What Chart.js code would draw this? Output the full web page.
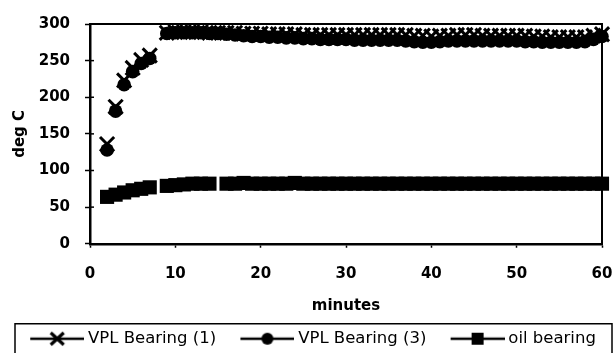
<!DOCTYPE html>
<html>
<head>
<meta charset="utf-8">
<script src="https://cdn.jsdelivr.net/npm/chart.js@4/dist/chart.umd.min.js"></script>
<style>
  html, body { margin: 0; padding: 0; background: #fff; }
  #wrap { width: 615px; height: 353px; position: relative; }
</style>
</head>
<body>
<div id="wrap"><canvas id="c"></canvas></div>
<script>
// ---- data ----
const seriesNames = ['VPL Bearing (1)', 'VPL Bearing (3)', 'oil bearing'];
const xTitle = 'minutes';
const yTitle = 'deg C';

const minutesVPL = [2, 3, 4, 5, 6, 7,
  9, 10, 11, 12, 13, 14, 15,
  16, 17, 18, 19, 20, 21, 22, 23, 24, 25,
  26, 27, 28, 29, 30, 31, 32, 33, 34, 35,
  36, 37, 38, 39, 40, 41, 42, 43, 44, 45,
  46, 47, 48, 49, 50, 51, 52, 53, 54, 55,
  56, 57, 58, 59, 60];

const vpl1 = [136, 187, 223, 240, 251, 257,
  288, 289, 289, 289, 289, 288, 288,
  288, 288, 287, 287, 287, 286, 286, 286, 286, 285,
  285, 285, 285, 285, 285, 285, 285, 285, 285, 285,
  285, 285, 284, 284, 283, 284, 284, 285, 285, 285,
  284, 284, 284, 284, 284, 284, 283, 283, 282, 282,
  282, 282, 282, 284, 286];

const vpl3 = [128, 181, 217, 235, 246, 253,
  287, 288, 288, 288, 288, 287, 287,
  286, 285, 284, 283, 283, 282, 282, 281, 281, 280,
  280, 279, 279, 279, 279, 278, 278, 278, 278, 278,
  278, 277, 276, 275, 275, 276, 277, 277, 277, 277,
  277, 277, 277, 277, 277, 276, 276, 275, 275, 275,
  275, 275, 276, 279, 283];

const minutesOil = [2, 3, 4, 5, 6, 7,
  9, 10, 11, 12, 13, 14,
  16, 17, 18, 19, 20, 21, 22, 23, 24, 25,
  26, 27, 28, 29, 30, 31, 32, 33, 34, 35,
  36, 37, 38, 39, 40, 41, 42, 43, 44, 45,
  46, 47, 48, 49, 50, 51, 52, 53, 54, 55,
  56, 57, 58, 59, 60];

const oil = [64, 67, 70, 73, 75, 77,
  79, 80, 81, 82, 82, 82,
  82, 82, 83, 82, 82, 82, 82, 82, 83, 82,
  82, 82, 82, 82, 82, 82, 82, 82, 82, 82,
  82, 82, 82, 82, 82, 82, 82, 82, 82, 82,
  82, 82, 82, 82, 82, 82, 82, 82, 82, 82,
  82, 82, 82, 82, 82];

const xTicks = [0, 10, 20, 30, 40, 50, 60];
const yTicks = [0, 50, 100, 150, 200, 250, 300];

// ---- build ----
function pts(xs, ys) { return xs.map((x, i) => ({ x: x, y: ys[i] })); }

const markerStyles = ['crossRot', 'circle', 'rect'];

function makeIcon(kind) {
  const W = 76, H = 22;
  const cv = document.createElement('canvas');
  cv.width = W; cv.height = H;
  const g = cv.getContext('2d');
  const x0 = 22, x1 = 76, cx = (x0 + x1) / 2, cy = H / 2;
  g.strokeStyle = '#000'; g.fillStyle = '#000';
  g.lineWidth = 2.5;
  g.beginPath(); g.moveTo(x0, cy); g.lineTo(x1, cy); g.stroke();
  if (kind === 'crossRot') {
    g.lineWidth = 3.2;
    g.beginPath();
    g.moveTo(cx - 6.5, cy - 6); g.lineTo(cx + 6.5, cy + 6);
    g.moveTo(cx + 6.5, cy - 6); g.lineTo(cx - 6.5, cy + 6);
    g.stroke();
  } else if (kind === 'circle') {
    g.beginPath(); g.arc(cx, cy, 6, 0, Math.PI * 2); g.fill();
  } else {
    g.fillRect(cx - 6, cy - 6, 12, 12);
  }
  return cv;
}
const icons = markerStyles.map(makeIcon);

const frame = {
  id: 'frame',
  afterDatasetsDraw(chart) {
    const ctx = chart.ctx, a = chart.chartArea;
    ctx.save();
    ctx.strokeStyle = '#000';
    ctx.lineWidth = 2;
    ctx.beginPath();
    ctx.moveTo(a.left, a.top); ctx.lineTo(a.right, a.top); ctx.lineTo(a.right, a.bottom);
    ctx.stroke();
    // inner half of the y tick marks (ticks cross the axis)
    const ys = chart.scales.y;
    ctx.lineWidth = 1.5;
    ys.ticks.forEach(t => {
      const py = ys.getPixelForValue(t.value);
      ctx.beginPath(); ctx.moveTo(a.left, py); ctx.lineTo(a.left + 4, py); ctx.stroke();
    });
    ctx.restore();
  },
  afterDraw(chart) {
    const lg = chart.legend;
    const ctx = chart.ctx;
    ctx.save();
    ctx.strokeStyle = '#000';
    ctx.lineWidth = 1.5;
    ctx.strokeRect(lg.left + 9, lg.top, (lg.right + 6) - (lg.left + 9), lg.height + 20);
    ctx.restore();
  }
};

new Chart(document.getElementById('c'), {
  type: 'scatter',
  data: {
    datasets: [
      { label: seriesNames[0], data: pts(minutesVPL, vpl1), pointStyle: 'crossRot', order: 2,
        pointRadius: 10, pointBorderWidth: 3, borderColor: '#000', backgroundColor: '#000', showLine: false, clip: false },
      { label: seriesNames[1], data: pts(minutesVPL, vpl3), pointStyle: 'circle', order: 1,
        pointRadius: 6.8, pointBorderWidth: 0, borderColor: '#000', backgroundColor: '#000', showLine: false, clip: false },
      { label: seriesNames[2], data: pts(minutesOil, oil), pointStyle: 'rect', order: 0,
        pointRadius: 10, pointBorderWidth: 0, borderColor: '#000', backgroundColor: '#000', showLine: false, clip: false }
    ]
  },
  options: {
    responsive: true,
    maintainAspectRatio: false,
    animation: false,
    events: [],
    layout: { padding: { left: 6, right: 9, top: 24, bottom: -4 } },
    plugins: {
      tooltip: { enabled: false },
      legend: {
        position: 'bottom',
        align: 'start',
        labels: {
          usePointStyle: true,
          pointStyleWidth: 67,
          padding: 6.75,
          color: '#000',
          font: { family: 'DejaVu Sans', size: 16.5 },
          generateLabels(chart) {
            const items = Chart.defaults.plugins.legend.labels.generateLabels(chart);
            items.sort((a, b) => a.datasetIndex - b.datasetIndex);
            items.forEach(it => { it.pointStyle = icons[it.datasetIndex]; });
            return items;
          }
        }
      }
    },
    scales: {
      x: {
        type: 'linear', min: 0, max: 60,
        afterBuildTicks(s) { s.ticks = xTicks.map(v => ({ value: v })); },
        afterFit(s) { s.height = 80; s.paddingLeft = 0; s.paddingRight = 0; },
        grid: { drawOnChartArea: false, tickLength: 4, tickWidth: 1.5, tickColor: '#000' },
        border: { color: '#000', width: 2.5 },
        ticks: { color: '#000', padding: 17, maxRotation: 0,
          font: { family: 'DejaVu Sans', size: 15, weight: 'bold' } },
        title: { display: true, text: xTitle, color: '#000', padding: { top: 0, bottom: 9 },
          font: { family: 'DejaVu Sans', size: 15, weight: 'bold' } }
      },
      y: {
        type: 'linear', min: 0, max: 300,
        afterBuildTicks(s) { s.ticks = yTicks.map(v => ({ value: v })); },
        afterFit(s) { s.width = 84; s.paddingTop = 0; s.paddingBottom = 0; },
        grid: { drawOnChartArea: false, tickLength: 5, tickWidth: 1.5, tickColor: '#000' },
        border: { color: '#000', width: 2.5 },
        ticks: { color: '#000', padding: 15,
          font: { family: 'DejaVu Sans', size: 15, weight: 'bold' } },
        title: { display: true, text: yTitle, color: '#000', padding: { top: 5, bottom: 0 },
          font: { family: 'DejaVu Sans', size: 15, weight: 'bold' } }
      }
    }
  },
  plugins: [frame]
});
</script>
</body>
</html>
